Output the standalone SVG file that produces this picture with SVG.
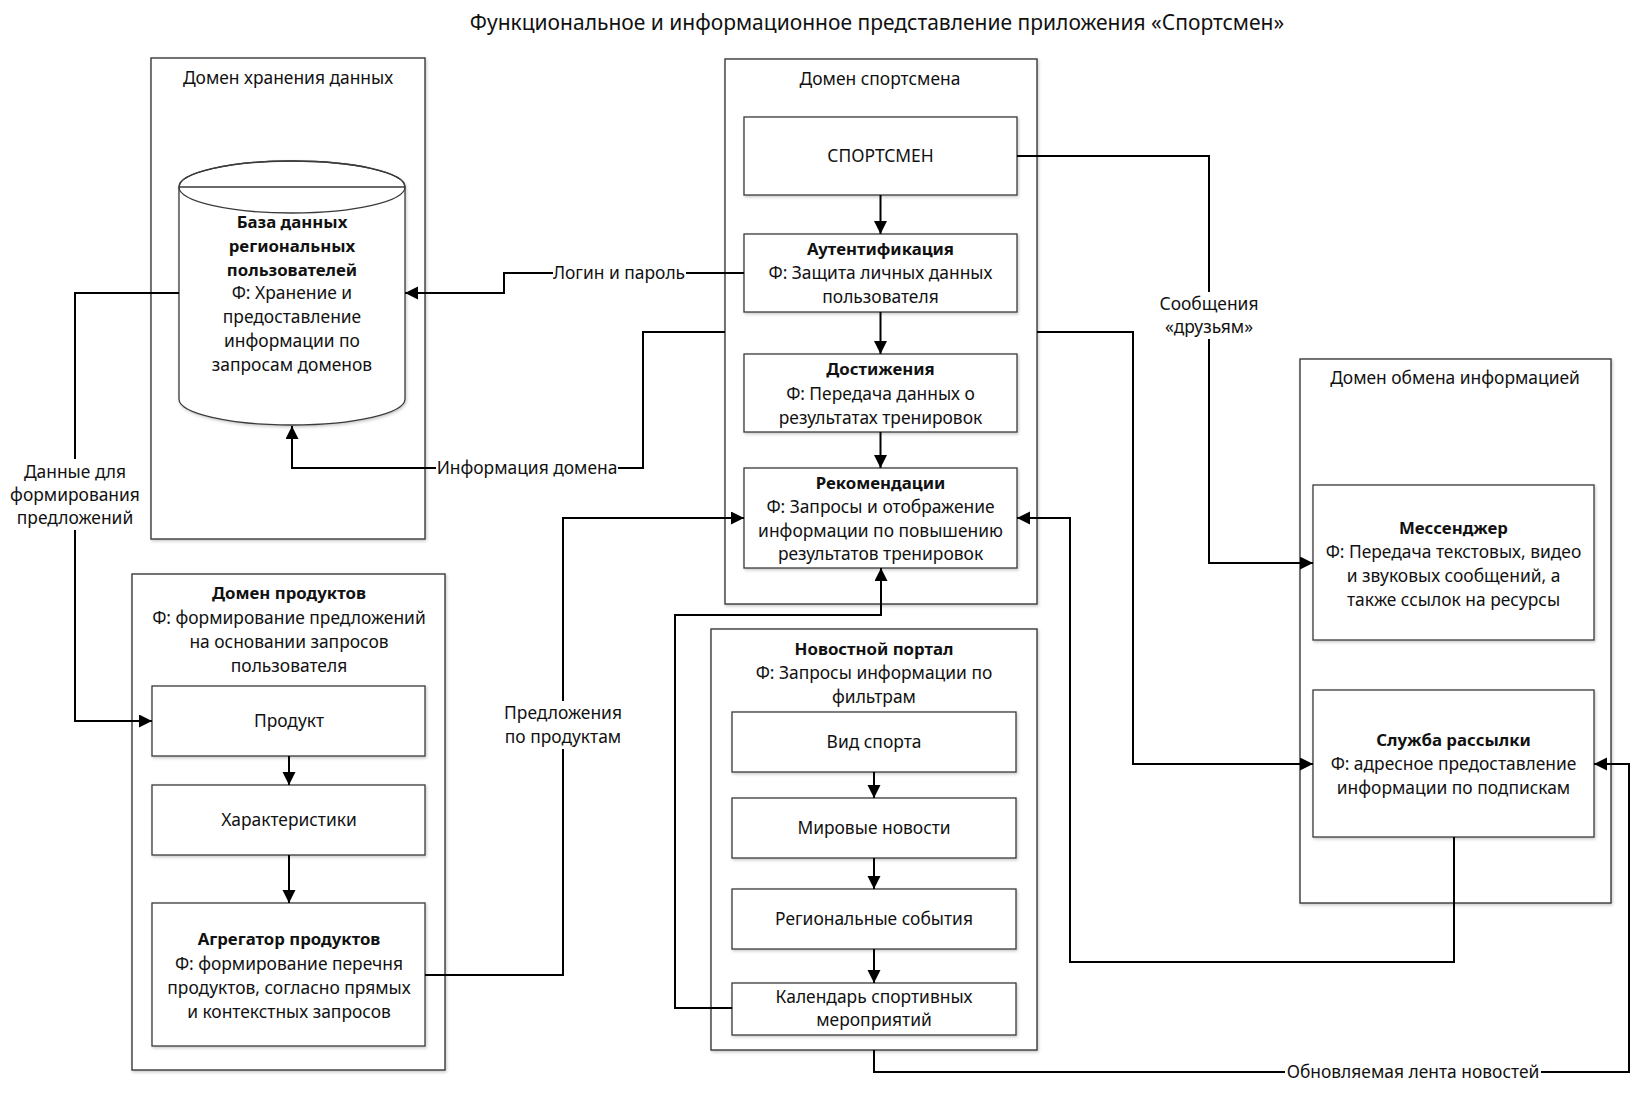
<svg xmlns="http://www.w3.org/2000/svg" width="1632" height="1094" viewBox="0 0 1632 1094">
  <defs>
    <marker id="arrow" markerUnits="userSpaceOnUse" markerWidth="14" markerHeight="14" refX="13" refY="6.5" orient="auto">
      <path d="M0,0 L13,6.5 L0,13 Z" fill="#000"/>
    </marker>
    <filter id="shadow" x="-5%" y="-5%" width="115%" height="115%">
      <feDropShadow dx="1" dy="1.5" stdDeviation="1.5" flood-color="#000" flood-opacity="0.22"/>
    </filter>
  </defs>
  <style>
    text { font-family: "Noto Sans", "Open Sans", "DejaVu Sans", sans-serif; font-size: 17.4px; fill: #111; text-anchor: middle; }
    .title { font-size: 21px; }
    .b { font-weight: bold; font-size: 16.8px; }
    .domain { fill: #fff; stroke: #3a3a3a; stroke-width: 1.4; filter: url(#shadow); }
    .box { fill: #fff; stroke: #3a3a3a; stroke-width: 1.3; filter: url(#shadow); }
    .conn { fill: none; stroke: #000; stroke-width: 2; }
    .arr { marker-end: url(#arrow); }
    .lbl { fill: #fff; stroke: none; }
  </style>
  <rect width="1632" height="1094" fill="#fff"/>

  <text class="title" x="877" y="30">Функциональное и информационное представление приложения «Спортсмен»</text>

  <!-- Domain containers -->
  <g id="domain-storage">
    <rect class="domain" x="151" y="58" width="274" height="481"/>
    <text x="288" y="84">Домен хранения данных</text>
  </g>
  <g id="domain-athlete">
    <rect class="domain" x="725" y="59" width="312" height="545"/>
    <text x="880" y="85">Домен спортсмена</text>
  </g>
  <g id="domain-products">
    <rect class="domain" x="132" y="574" width="313" height="496"/>
    <text class="b" x="289" y="599">Домен продуктов</text>
    <text x="289" y="624">Ф: формирование предложений</text>
    <text x="289" y="648">на основании запросов</text>
    <text x="289" y="672">пользователя</text>
  </g>
  <g id="domain-news">
    <rect class="domain" x="711" y="629" width="326" height="421"/>
    <text class="b" x="874" y="655">Новостной портал</text>
    <text x="874" y="679">Ф: Запросы информации по</text>
    <text x="874" y="703">фильтрам</text>
  </g>
  <g id="domain-exchange">
    <rect class="domain" x="1300" y="359" width="311" height="544"/>
    <text x="1455" y="384">Домен обмена информацией</text>
  </g>

  <!-- Database cylinder -->
  <g id="node-database">
    <path d="M179,187 L179,399 A113,26 0 0 0 405,399 L405,187 A113,26 0 0 0 179,187 Z" fill="#fff" stroke="#3a3a3a" stroke-width="1.3" filter="url(#shadow)"/>
    <ellipse cx="292" cy="187" rx="113" ry="26" fill="none" stroke="#3a3a3a" stroke-width="1.3"/>
    <line x1="179" y1="187" x2="405" y2="187" stroke="#3a3a3a" stroke-width="1.3"/>
    <text class="b" x="292" y="228">База данных</text>
    <text class="b" x="292" y="252">региональных</text>
    <text class="b" x="292" y="276">пользователей</text>
    <text x="292" y="299">Ф: Хранение и</text>
    <text x="292" y="323">предоставление</text>
    <text x="292" y="347">информации по</text>
    <text x="292" y="371">запросам доменов</text>
  </g>

  <!-- Athlete domain nodes -->
  <g id="node-athlete">
    <rect class="box" x="744" y="117" width="273" height="78"/>
    <text x="880.5" y="162">СПОРТСМЕН</text>
  </g>
  <g id="node-auth">
    <rect class="box" x="744" y="234" width="273" height="78"/>
    <text class="b" x="880.5" y="255">Аутентификация</text>
    <text x="880.5" y="279">Ф: Защита личных данных</text>
    <text x="880.5" y="303">пользователя</text>
  </g>
  <g id="node-achievements">
    <rect class="box" x="744" y="354" width="273" height="78"/>
    <text class="b" x="880.5" y="375">Достижения</text>
    <text x="880.5" y="400">Ф: Передача данных о</text>
    <text x="880.5" y="424">результатах тренировок</text>
  </g>
  <g id="node-recommendations">
    <rect class="box" x="744" y="468" width="273" height="100"/>
    <text class="b" x="880.5" y="489">Рекомендации</text>
    <text x="880.5" y="513">Ф: Запросы и отображение</text>
    <text x="880.5" y="537">информации по повышению</text>
    <text x="880.5" y="560">результатов тренировок</text>
  </g>

  <!-- Product domain nodes -->
  <g id="node-product">
    <rect class="box" x="152" y="686" width="273" height="70"/>
    <text x="289" y="727">Продукт</text>
  </g>
  <g id="node-characteristics">
    <rect class="box" x="152" y="785" width="273" height="70"/>
    <text x="289" y="826">Характеристики</text>
  </g>
  <g id="node-aggregator">
    <rect class="box" x="152" y="903" width="273" height="143"/>
    <text class="b" x="289" y="945">Агрегатор продуктов</text>
    <text x="289" y="970">Ф: формирование перечня</text>
    <text x="289" y="994">продуктов, согласно прямых</text>
    <text x="289" y="1018">и контекстных запросов</text>
  </g>

  <!-- News portal nodes -->
  <g id="node-sport">
    <rect class="box" x="732" y="712" width="284" height="60"/>
    <text x="874" y="748">Вид спорта</text>
  </g>
  <g id="node-world">
    <rect class="box" x="732" y="798" width="284" height="60"/>
    <text x="874" y="834">Мировые новости</text>
  </g>
  <g id="node-regional">
    <rect class="box" x="732" y="889" width="284" height="60"/>
    <text x="874" y="925">Региональные события</text>
  </g>
  <g id="node-calendar">
    <rect class="box" x="732" y="983" width="284" height="52"/>
    <text x="874" y="1003">Календарь спортивных</text>
    <text x="874" y="1026">мероприятий</text>
  </g>

  <!-- Exchange domain nodes -->
  <g id="node-messenger">
    <rect class="box" x="1313" y="485" width="281" height="155"/>
    <text class="b" x="1453.5" y="534">Мессенджер</text>
    <text x="1453.5" y="558">Ф: Передача текстовых, видео</text>
    <text x="1453.5" y="582">и звуковых сообщений, а</text>
    <text x="1453.5" y="606">также ссылок на ресурсы</text>
  </g>
  <g id="node-mailing">
    <rect class="box" x="1313" y="690" width="281" height="147"/>
    <text class="b" x="1453.5" y="746">Служба рассылки</text>
    <text x="1453.5" y="770">Ф: адресное предоставление</text>
    <text x="1453.5" y="794">информации по подпискам</text>
  </g>

  <!-- Connectors -->
  <g id="connectors">
    <path class="conn arr" d="M880.5,195 V234"/>
    <path class="conn arr" d="M880.5,312 V354"/>
    <path class="conn arr" d="M880.5,432 V468"/>
    <path class="conn arr" d="M289,756 V785"/>
    <path class="conn arr" d="M289,855 V903"/>
    <path class="conn arr" d="M874,772 V798"/>
    <path class="conn arr" d="M874,858 V889"/>
    <path class="conn arr" d="M874,949 V983"/>

    <path class="conn arr" d="M744,273 H504 V293 H405"/>
    <path class="conn arr" d="M725,332 H643 V468 H292 V426"/>
    <path class="conn arr" d="M179,293 H75 V721 H152"/>
    <path class="conn arr" d="M1017,156 H1209 V563 H1313"/>
    <path class="conn arr" d="M1037,332 H1133 V764 H1313"/>
    <path class="conn arr" d="M1454,837 V962 H1070 V518 H1017"/>
    <path class="conn arr" d="M425,975 H563 V518 H744"/>
    <path class="conn arr" d="M732,1008 H675 V615 H881 V568"/>
    <path class="conn arr" d="M874,1050 V1072 H1629 V764 H1594"/>

    <!-- Connector labels -->
    <rect class="lbl" x="553" y="262" width="133" height="22"/>
    <text x="619" y="279">Логин и пароль</text>
    <rect class="lbl" x="436" y="457" width="182" height="22"/>
    <text x="527" y="474">Информация домена</text>
    <rect class="lbl" x="11" y="459" width="128" height="71"/>
    <text x="75" y="478">Данные для</text>
    <text x="75" y="501">формирования</text>
    <text x="75" y="524">предложений</text>
    <rect class="lbl" x="1156" y="292" width="106" height="47"/>
    <text x="1209" y="310">Сообщения</text>
    <text x="1209" y="333">«друзьям»</text>
    <rect class="lbl" x="499" y="701" width="128" height="48"/>
    <text x="563" y="719">Предложения</text>
    <text x="563" y="743">по продуктам</text>
    <rect class="lbl" x="1285" y="1061" width="256" height="22"/>
    <text x="1413" y="1078">Обновляемая лента новостей</text>
  </g>
</svg>
